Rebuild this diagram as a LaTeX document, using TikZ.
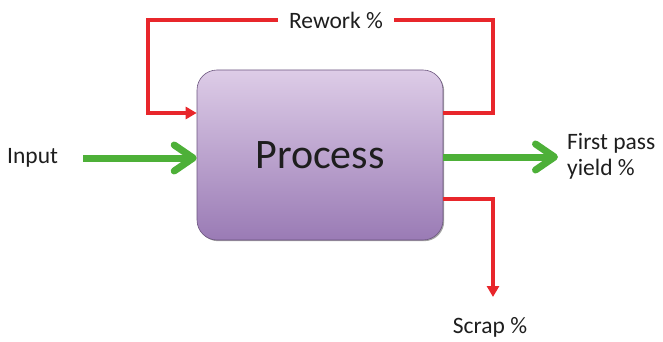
\documentclass[tikz,border=0pt]{standalone}
\usepackage{fontspec}
\setmainfont{Carlito}
\usetikzlibrary{arrows.meta,shadows}
\definecolor{boxtop}{HTML}{DDCCE7}
\definecolor{boxbot}{HTML}{9A7BB5}
\definecolor{flowred}{HTML}{E8262B}
\definecolor{flowgreen}{HTML}{4DB038}
\definecolor{txt}{HTML}{1E1E1E}
\tikzset{
  procbox/.style={rounded corners=20pt, top color=boxtop, bottom color=boxbot,
    draw=boxbot!70!black, line width=0.6pt, minimum width=246pt, minimum height=170pt,
    inner sep=0pt, font=\fontsize{42}{46}\selectfont, text=txt,
    drop shadow={shadow xshift=1.2pt, shadow yshift=-1.2pt, fill=black!60, opacity=0.6}},
  lbl/.style={font=\fontsize{23.5}{26}\selectfont, text=txt, inner sep=1pt, align=left},
  redflow/.style={draw=flowred, line width=3.2pt, line cap=butt, line join=miter},
  redtip/.style={-{Triangle[length=11pt,width=12pt]}},
  greenflow/.style={draw=flowgreen, line width=7pt,
    -{Straight Barb[length=19pt,width=26pt,line width=7pt,round]}}
}
\begin{document}
\begin{tikzpicture}[x=1pt,y=-1pt]
\useasboundingbox (0,0) rectangle (663,342);
\node[procbox] (P) at (320,155) {Process};
% labels
\node[lbl, anchor=west] (in) at (6,158) {Input};
\node[lbl, anchor=west] (fp) at (566,156) {First pass\\yield \%};
\node[lbl, inner xsep=11pt] (rw) at (336,20) {Rework \%};
\node[lbl] (sc) at (490,327) {Scrap \%};
% coordinates
\coordinate (rwR) at (493,20);
\coordinate (rwL) at (148,20);
\coordinate (send) at (493,297);
\coordinate (ginS) at (83,158);
\coordinate (goutE) at (558,157);
% rework loop
\draw[redflow] ([yshift=42pt]P.east) -| (rwR) -- (rw.east);
\draw[redflow, redtip] (rw.west) -- (rwL) |- ([yshift=42pt]P.west);
% scrap
\draw[redflow, redtip] ([yshift=-44pt]P.east) -| (send);
% green flows
\draw[greenflow] (ginS) -- ([yshift=-3pt]P.west);
\draw[greenflow] ([yshift=-2pt]P.east) -- (goutE);
\end{tikzpicture}
\end{document}
